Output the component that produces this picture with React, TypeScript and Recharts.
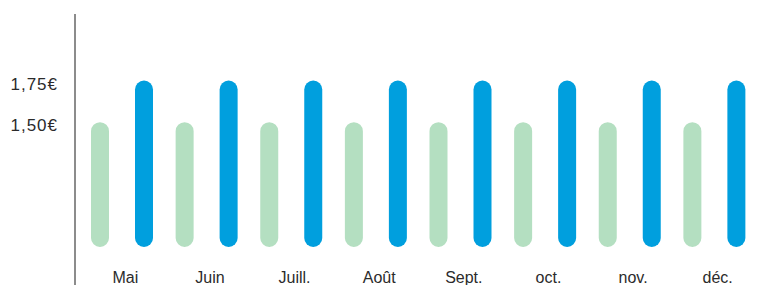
import React from 'react'
import { BarChart, Bar, XAxis, YAxis } from 'recharts'

const months = ['Mai', 'Juin', 'Juill.', 'Août', 'Sept.', 'oct.', 'nov.', 'déc.']
const prixBas = [1.5, 1.5, 1.5, 1.5, 1.5, 1.5, 1.5, 1.5]
const prixHaut = [1.75, 1.75, 1.75, 1.75, 1.75, 1.75, 1.75, 1.75]
const yTicks = [1.5, 1.75]

const data = months.map((m, i) => ({ month: m, bas: prixBas[i], haut: prixHaut[i] }))

const fontFamily = '"Liberation Sans", Arial, sans-serif'

export default function App() {
  return (
    <div style={{ position: 'absolute', left: 0, top: 0, width: 761, height: 285 }}>
      {/* axis line runs past the plot down to the bottom edge */}
      <div style={{ position: 'absolute', left: 74, top: 14, width: 2, height: 271, background: '#8c8c8c' }} />
      <BarChart
        width={761}
        height={285}
        data={data}
        margin={{ top: 14, right: 0, bottom: 0, left: 0 }}
        barGap={26}
        barSize={18}
      >
        <XAxis
          dataKey="month"
          height={38}
          axisLine={false}
          tickLine={false}
          tickSize={0}
          tickMargin={25}
          padding={{ left: 6, right: 4 }}
          interval={0}
          tick={{ fill: '#2b2b2b', fontSize: 16, fontFamily, dx: 3 }}
        />
        <YAxis
          width={74}
          domain={[0.75, 2.15]}
          ticks={yTicks}
          axisLine={false}
          tickLine={false}
          tickSize={0}
          tickMargin={16}
          tickFormatter={(v: number) => v.toFixed(2).replace('.', ',') + '€'}
          tick={{ fill: '#2b2b2b', fontSize: 17, fontFamily, letterSpacing: 1, dy: 3 }}
        />
        <Bar dataKey="bas" fill="#b4dfc1" radius={9} isAnimationActive={false} />
        <Bar dataKey="haut" fill="#009fde" radius={9} isAnimationActive={false} />
      </BarChart>
    </div>
  )
}
